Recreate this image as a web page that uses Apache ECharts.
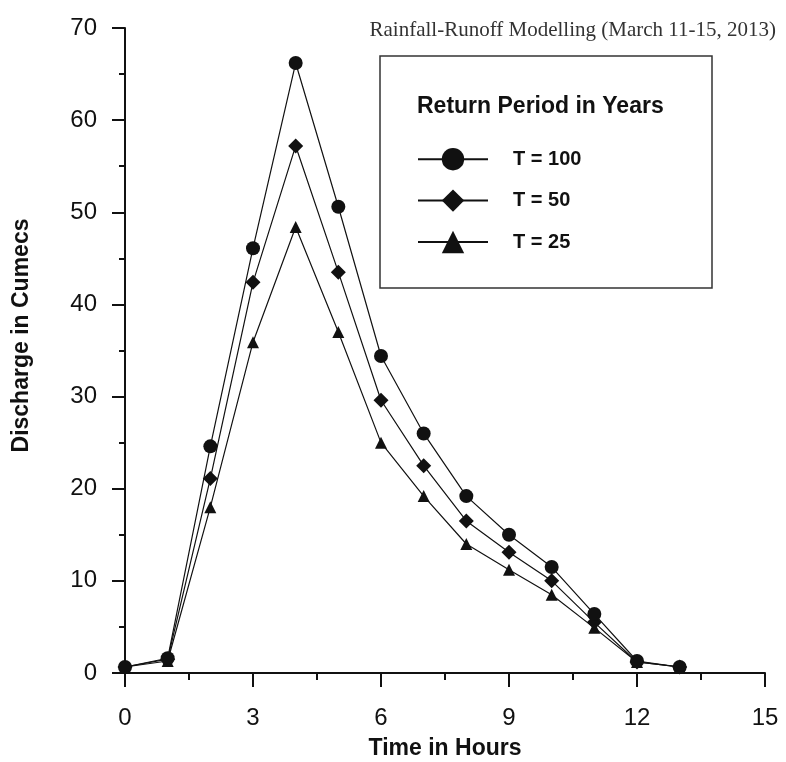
<!DOCTYPE html>
<html>
<head>
<meta charset="utf-8">
<script src="https://cdn.jsdelivr.net/npm/echarts@6/dist/echarts.min.js"></script>
<style>
  html, body { margin: 0; padding: 0; background: #fff; }
  #rainfall-runoff { width: 786px; height: 762px; }
</style>
</head>
<body>
<div id="rainfall-runoff"></div>
<script>
// hours 0..13
var hours = [0, 1, 2, 3, 4, 5, 6, 7, 8, 9, 10, 11, 12, 13];
var t100 = [0.65, 1.6, 24.6, 46.1, 66.2, 50.6, 34.4, 26.0, 19.2, 15.0, 11.5, 6.4, 1.3, 0.65];
var t50 = [0.65, 1.5, 21.1, 42.4, 57.2, 43.5, 29.6, 22.5, 16.5, 13.1, 10.0, 5.5, 1.2, 0.65];
var t25 = [0.65, 1.3, 18.0, 35.9, 48.4, 37.0, 25.0, 19.2, 14.0, 11.2, 8.5, 4.9, 1.2, 0.65];
var seriesNames = ["T = 100", "T = 50", "T = 25"];

function pairs(vals) {
  var out = [];
  for (var i = 0; i < hours.length; i++) {
    out.push([hours[i], vals[i]]);
  }
  return out;
}

var chart = echarts.init(document.getElementById("rainfall-runoff"));

var option = {
  animation: false,
  backgroundColor: "#fff",
  textStyle: { fontFamily: "Liberation Sans" },
  title: {
    text: "Rainfall-Runoff Modelling (March 11-15, 2013)",
    right: 5,
    top: 15,
    textStyle: {
      fontFamily: "Liberation Serif",
      fontWeight: "normal",
      fontSize: 21,
      color: "#333"
    }
  },
  grid: {
    left: 125,
    right: 21,
    top: 28,
    bottom: 89,
    outerBoundsMode: "none"
  },
  legend: {
    orient: "vertical",
    left: 412,
    top: 143,
    itemWidth: 70,
    itemHeight: 28,
    itemGap: 19,
    data: seriesNames,
    textStyle: {
      fontSize: 20,
      fontWeight: "bold",
      color: "#111",
      padding: [0, 0, 0, 20]
    }
  },
  graphic: [
    {
      type: "rect",
      shape: { x: 380, y: 56, width: 332, height: 232 },
      style: { fill: "none", stroke: "#333", lineWidth: 1.5 },
      z: 10
    },
    {
      type: "text",
      left: 417,
      top: 95,
      style: {
        text: "Return Period in Years",
        font: "bold 23px 'Liberation Sans'",
        fill: "#111"
      },
      z: 10
    }
  ],
  xAxis: {
    type: "value",
    min: 0,
    max: 15,
    interval: 3,
    name: "Time in Hours",
    nameLocation: "middle",
    nameGap: 64,
    nameTextStyle: { fontSize: 23, fontWeight: "bold", color: "#111" },
    axisLine: { show: true, onZero: false, lineStyle: { color: "#111", width: 2 } },
    axisTick: { show: true, length: 14, lineStyle: { color: "#111", width: 2 } },
    minorTick: { show: true, splitNumber: 2, length: 7, lineStyle: { color: "#111", width: 2 } },
    axisLabel: { fontSize: 24, color: "#111", margin: 33 },
    splitLine: { show: false }
  },
  yAxis: {
    type: "value",
    min: 0,
    max: 70,
    interval: 10,
    name: "Discharge in Cumecs",
    nameLocation: "middle",
    nameGap: 92,
    nameTextStyle: { fontSize: 23, fontWeight: "bold", color: "#111", padding: [0, 0, 0, 30] },
    axisLine: { show: true, onZero: false, lineStyle: { color: "#111", width: 2 } },
    axisTick: { show: true, length: 13, lineStyle: { color: "#111", width: 2 } },
    minorTick: { show: true, splitNumber: 2, length: 6, lineStyle: { color: "#111", width: 2 } },
    axisLabel: { fontSize: 24, color: "#111", margin: 28 },
    splitLine: { show: false }
  },
  series: [
    {
      name: seriesNames[0],
      type: "line",
      data: pairs(t100),
      symbol: "circle",
      symbolSize: 14,
      itemStyle: { color: "#111" },
      lineStyle: { color: "#111", width: 1.2 },
      z: 3
    },
    {
      name: seriesNames[1],
      type: "line",
      data: pairs(t50),
      symbol: "diamond",
      symbolSize: 15,
      itemStyle: { color: "#111" },
      lineStyle: { color: "#111", width: 1.2 },
      z: 2
    },
    {
      name: seriesNames[2],
      type: "line",
      data: pairs(t25),
      symbol: "triangle",
      symbolSize: 12,
      itemStyle: { color: "#111" },
      lineStyle: { color: "#111", width: 1.2 },
      z: 1
    }
  ]
};

chart.setOption(option);
window.addEventListener("resize", function() {
  chart.resize();
});
</script>
</body>
</html>
